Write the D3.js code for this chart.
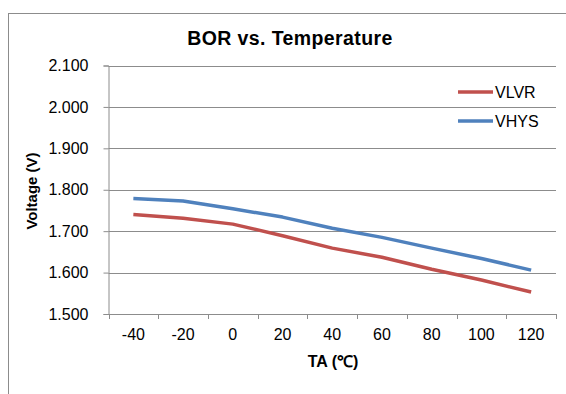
<!DOCTYPE html>
<html><head><meta charset="utf-8">
<script src="https://cdn.jsdelivr.net/npm/d3@7"></script>
<style>body{margin:0;background:#fff}svg{display:block;font-family:"Liberation Sans",Arial,sans-serif}</style>
</head><body><div id="chart"></div>
<script>
const categories = ["-40","-20","0","20","40","60","80","100","120"];
const vlvr = [1.740,1.731,1.717,1.689,1.659,1.637,1.608,1.582,1.553];
const vhys = [1.779,1.773,1.754,1.734,1.707,1.685,1.659,1.634,1.606];
const yTicks = [1.5,1.6,1.7,1.8,1.9,2.0,2.1];
const seriesNames = ["VLVR","VHYS"];
const seriesColors = ["#C0504D","#4F81BD"];

const W=566,H=394;
const svg=d3.select("#chart").append("svg").attr("width",W).attr("height",H);
// outer frame (cropped at right/bottom)
svg.append("rect").attr("x",8.5).attr("y",13.5).attr("width",600).attr("height",400)
  .attr("fill","#fff").attr("stroke","#8c8c8c").attr("stroke-width",1);

const L=108.5,R=556,T=65.5,B=314;
const x=d3.scaleBand().domain(categories).range([L,R]);
const y=d3.scaleLinear().domain([1.5,2.1]).range([B,T]);

// gridlines
svg.append("g").selectAll("line").data(yTicks.slice(1)).join("line")
  .attr("x1",L).attr("x2",R).attr("y1",d=>Math.round(y(d))+0.5).attr("y2",d=>Math.round(y(d))+0.5)
  .attr("stroke","#8c8c8c").attr("stroke-width",1);

// y axis
const ya=svg.append("g").attr("transform",`translate(${L},0)`)
  .call(d3.axisLeft(y).tickValues(yTicks).tickFormat(d3.format(".3f")).tickSize(5).tickPadding(15));
ya.select(".domain").attr("stroke","#8c8c8c");
ya.selectAll(".tick line").attr("stroke","#8c8c8c");
ya.selectAll("text").attr("font-size",16).attr("fill","#000").attr("font-family","Liberation Sans, Arial");

// x axis
const xa=svg.append("g").attr("transform",`translate(0,${B})`)
  .call(d3.axisBottom(x).tickSize(0).tickPadding(15));
xa.select(".domain").attr("stroke","#8c8c8c");
xa.selectAll("text").attr("font-size",16).attr("fill","#000").attr("font-family","Liberation Sans, Arial");
// category boundary ticks
const bounds=categories.map(c=>x(c)).concat([R]);
svg.append("g").selectAll("line").data(bounds).join("line")
  .attr("x1",d=>Math.round(d)+0.5).attr("x2",d=>Math.round(d)+0.5).attr("y1",B).attr("y2",B+5)
  .attr("stroke","#8c8c8c");

// lines
const line=d3.line().x((d,i)=>x(categories[i])+x.bandwidth()/2).y(d=>y(d));
[vlvr,vhys].forEach((s,i)=>{
  svg.append("path").datum(s).attr("d",line).attr("fill","none")
    .attr("stroke",seriesColors[i]).attr("stroke-width",3.5).attr("stroke-linejoin","round");
});

// legend
seriesNames.forEach((n,i)=>{
  const ly=92+i*29;
  svg.append("line").attr("x1",458).attr("x2",493).attr("y1",ly).attr("y2",ly)
    .attr("stroke",seriesColors[i]).attr("stroke-width",3.5);
  svg.append("text").attr("x",495).attr("y",ly+5.5).attr("font-size",16).text(n);
});

// title
svg.append("text").attr("x",290).attr("y",45).attr("text-anchor","middle")
  .attr("font-size",19.5).attr("letter-spacing",0.4).attr("font-weight","bold").text("BOR vs. Temperature");
// axis titles
svg.append("text").attr("transform","translate(37,191) rotate(-90)").attr("text-anchor","middle")
  .attr("font-size",15).attr("font-weight","bold").text("Voltage (V)");
svg.append("text").attr("x",333).attr("y",367).attr("text-anchor","middle")
  .attr("font-size",16).attr("font-weight","bold").text("TA (℃)");
</script></body></html>
